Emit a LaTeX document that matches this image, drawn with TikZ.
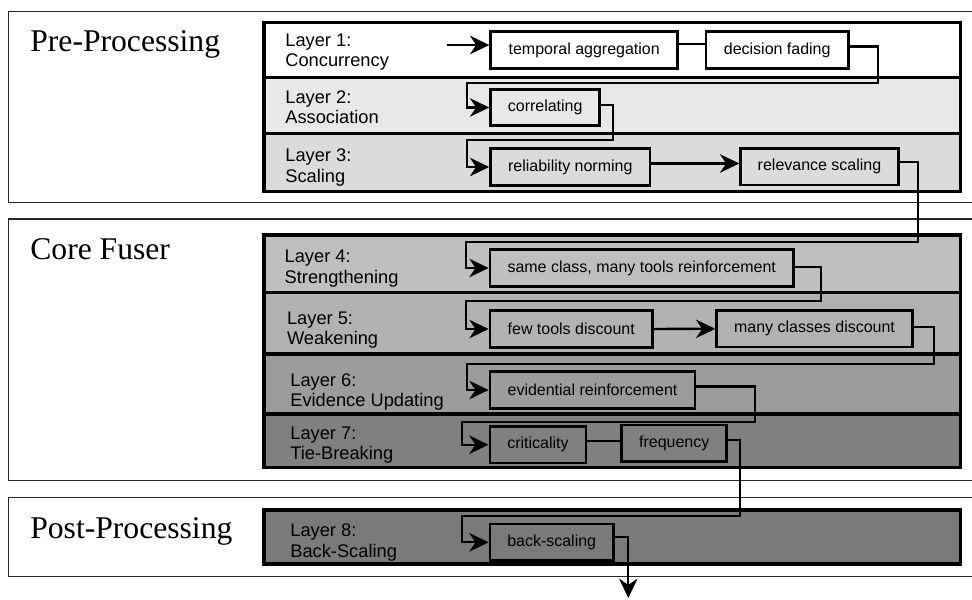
\documentclass[tikz,border=0pt]{standalone}
\usepackage{fontspec}
\setmainfont{Liberation Serif}
\setsansfont{Liberation Sans}
\usepackage{xcolor}
\usepackage{tikz}
\usetikzlibrary{positioning, calc, arrows.meta}
\definecolor{lay1}{gray}{1.00}
\definecolor{lay2}{gray}{0.91}
\definecolor{lay3}{gray}{0.86}
\definecolor{lay4}{gray}{0.75}
\definecolor{lay5}{gray}{0.70}
\definecolor{lay6}{gray}{0.61}
\definecolor{lay7}{gray}{0.50}
\definecolor{lay8}{gray}{0.48}
\tikzstyle{frame} = [draw=black!85, line width=0.8pt]
\tikzstyle{section} = [anchor=base west, inner sep=0pt, font=\fontsize{18}{20}\selectfont]
\tikzstyle{layerrow} = [draw=black, line width=1.8pt]
\tikzstyle{layertext} = [anchor=base west, align=left, inner sep=0pt, font=\sffamily\fontsize{10.4}{11.7}\selectfont]
\tikzstyle{stagebox} = [rectangle, draw=black, line width=1.6pt, minimum height=0.732cm, inner sep=0pt, text centered, font=\sffamily\fontsize{9.1}{11}\selectfont]
\tikzstyle{link} = [line width=1.3pt]
\tikzstyle{arrow} = [line width=1.3pt, -{Stealth[length=11pt,width=10.5pt,inset=3.5pt]}]

\begin{document}
\begin{tikzpicture}[x=0.02cm, y=-0.02cm]
		\useasboundingbox (0,0) rectangle (972,599);
		%drei Abschnitte
		\draw [frame] (972,11.7) -- (8.3,11.7) -- (8.3,202.7) -- (972,202.7);
		\draw [frame] (972,219) -- (8.3,219) -- (8.3,480.7) -- (972,480.7);
		\draw [frame] (972,497.5) -- (8.3,497.5) -- (8.3,576.7) -- (972,576.7);
		\node (pre) [section] at (30,51.7) {Pre-Processing};
		\node (core) [section] at (30,259) {Core Fuser};
		\node (post) [section] at (30,538.3) {Post-Processing};
		
		%Schichten
		\draw [layerrow, fill=lay1] (264,22.7) rectangle (960.7,77.3);
		\draw [layerrow, fill=lay2] (264,77.3) rectangle (960.7,133.3);
		\draw [layerrow, fill=lay3] (264,133.3) rectangle (960.7,191.7);
		\draw [layerrow, fill=lay4] (264,235) rectangle (960.7,292.7);
		\draw [layerrow, fill=lay5] (264,292.7) rectangle (960.7,354);
		\draw [layerrow, fill=lay6] (264,354) rectangle (960.7,414);
		\draw [layerrow, fill=lay7] (264,414) rectangle (960.7,467.3);
		\draw [layerrow, fill=lay8] (264,510) rectangle (960.7,564);
		\node (lab1) [layertext] at (285,66.6) {Layer 1:\\Concurrency};
		\node (lab2) [layertext] at (285,123.6) {Layer 2:\\Association};
		\node (lab3) [layertext] at (285,182.3) {Layer 3:\\Scaling};
		\node (lab4) [layertext] at (284.3,283.3) {Layer 4:\\Strengthening};
		\node (lab5) [layertext] at (286.7,344.6) {Layer 5:\\Weakening};
		\node (lab6) [layertext] at (290,406.6) {Layer 6:\\Evidence Updating};
		\node (lab7) [layertext] at (290,459.9) {Layer 7:\\Tie-Breaking};
		\node (lab8) [layertext] at (290,557.3) {Layer 8:\\Back-Scaling};
		
		%Verarbeitungsschritte
		\node (agg) [stagebox, minimum width=3.74cm] at (584.2,50) {temporal aggregation};
		\node (fade) [stagebox, minimum width=2.846cm] at (777.2,50) {decision fading};
		\node (corr) [stagebox, minimum width=2.18cm] at (545.2,107.5) {correlating};
		\node (norm) [stagebox, minimum width=3.186cm] at (570.3,167) {reliability norming};
		\node (relev) [stagebox, minimum width=3.152cm] at (819.5,166.7) {relevance scaling};
		\node (reinf) [stagebox, minimum width=6.066cm] at (641.7,268) {same class, many tools reinforcement};
		\node (few) [stagebox, minimum width=3.246cm] at (571.2,329) {few tools discount};
		\node (many) [stagebox, minimum width=3.912cm] at (814.5,328.7) {many classes discount};
		\node (evid) [stagebox, minimum width=4.1cm] at (592.5,390) {evidential reinforcement};
		\node (crit) [stagebox, minimum width=1.92cm] at (538,444.7) {criticality};
		\node (freq) [stagebox, minimum width=2.1cm] at (674.2,443.3) {frequency};
		\node (back) [stagebox, minimum width=2.466cm] at (551.7,542.3) {back-scaling};
		\coordinate (in) at (446.7,45);
		\coordinate (out) at (628.3,598);
		
		%Verbindungen
		\draw [arrow] (in) -- (in -| agg.west);
		\draw [link] ([yshift=3.5pt]agg.east) -- ([yshift=3.5pt]fade.west);
		\draw [arrow] ([yshift=2pt]fade.east) -| (877.7,82.7) -- (467.3,82.7) |- (corr.west);
		\draw [arrow] ([yshift=1.4pt]corr.east) -| (613.3,140) -- (467.3,140) |- (norm.west);
		\draw [arrow] ([yshift=2pt]norm.east) -- ([yshift=2pt]norm.east -| relev.west);
		\draw [arrow] ([yshift=2.8pt]relev.east) -| (918.3,241.7) -- (466,241.7) |- (reinf.west);
		\draw [arrow] ([yshift=0.4pt]reinf.east) -| (821,300.7) -- (466,300.7) |- (few.west);
		\draw [arrow] (few) -- (many);
		\draw [arrow] ([yshift=0.8pt]many.east) -| (934,364.3) -- (467,364.3) |- (evid.west);
		\draw [arrow] ([yshift=2pt]evid.east) -| (755,421.7) -- (461.7,421.7) |- (crit.west);
		\draw [link] ([yshift=2pt]crit.east) -- ([yshift=2pt]crit.east -| freq.west);
		\draw [arrow] ([yshift=2pt]freq.east) -| (740,515.7) -- (461.7,515.7) |- (back.west);
		\draw [arrow] ([yshift=3pt]back.east) -| (out);
		
	\end{tikzpicture}
\end{document}
